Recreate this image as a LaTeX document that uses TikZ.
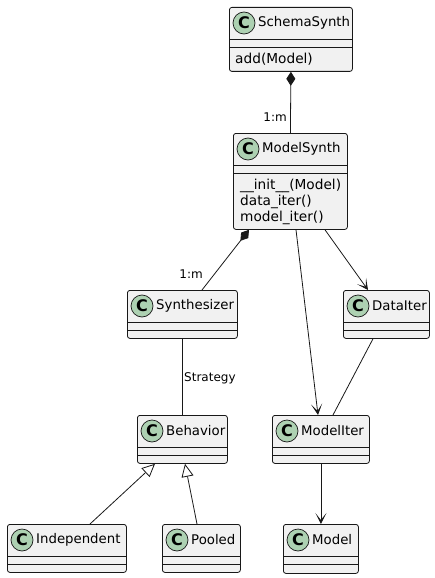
\documentclass[tikz,border=0pt]{standalone}
\usepackage{fontspec}
\setmainfont{DejaVu Sans}
\usetikzlibrary{arrows.meta,calc}
\definecolor{boxfill}{HTML}{F1F1F1}
\definecolor{boxline}{HTML}{181818}
\definecolor{circfill}{HTML}{ADD1B2}
\tikzset{
  classbox/.style={draw=boxline, fill=boxfill, rounded corners=2.5pt, line width=0.8pt, inner sep=0pt, anchor=north west},
  sepline/.style={draw=boxline, line width=0.7pt},
  ctitle/.style={anchor=west, inner sep=0pt, font=\fontsize{13.3}{16}\selectfont},
  cmeth/.style={anchor=west, inner sep=0pt, font=\fontsize{13.7}{16}\selectfont},
  cicon/.style={circle, draw=boxline, fill=circfill, line width=0.7pt, minimum size=22pt, inner sep=0pt, font=\fontsize{16}{18}\selectfont\bfseries},
  conn/.style={draw=boxline, line width=0.8pt},
  lbl/.style={inner sep=0pt, font=\fontsize{12}{14}\selectfont},
  comp/.style={conn, {Diamond[length=14pt,width=9pt,fill=boxline]}-},
  inh/.style={conn, -{Triangle[open,length=13pt,width=12pt,fill=white]}},
  assoc/.style={conn, -{Stealth[length=11pt,width=11pt,inset=7pt]}}
}
% name, x1, y1, width, height, title
\newcommand{\umlclass}[6]{%
  \node[classbox, minimum width=#4pt, minimum height=#5pt] (#1) at (#2,#3) {};
  \draw[sepline] ($(#1.north west)+(0,32)$) -- ($(#1.north east)+(0,32)$);
  \draw[sepline] ($(#1.north west)+(0,40)$) -- ($(#1.north east)+(0,40)$);
  \node[cicon] (#1-icon) at ($(#1.north west)+(15,16)$) {C};
  \node[ctitle] (#1-title) at ($(#1.north west)+(29,16)$) {#6};
}
\begin{document}
\begin{tikzpicture}[x=1pt,y=-1pt]
\useasboundingbox (0,0) rectangle (435,578);
\umlclass{SS}{229}{7}{123}{64}{SchemaSynth}
\node[cmeth] (SSm1) at (235,59) {add(Model)};
\umlclass{MS}{233}{133}{114}{96}{ModelSynth}
\node[cmeth] (MSm1) at (240,185.5) {\_\_init\_\_(Model)};
\node[cmeth] (MSm2) at (240,202) {data\_iter()};
\node[cmeth] (MSm3) at (240,218) {model\_iter()};
\umlclass{Syn}{127}{290}{110}{48}{Synthesizer}
\umlclass{DI}{343}{290}{86}{48}{DataIter}
\umlclass{Beh}{137}{415}{90}{48}{Behavior}
\umlclass{MI}{272}{415}{97}{48}{ModelIter}
\umlclass{Ind}{7}{524}{119}{48}{Independent}
\umlclass{Pool}{162}{524}{78}{48}{Pooled}
\umlclass{Mod}{283}{524}{75}{49}{Model}

\draw[comp] (SS.south) -- (MS.north);
\node[lbl, anchor=east] (l1) at (287,117) {1:m};
\draw[comp] ($(MS.south west)+(16,0)$) -- ($(Syn.north west)+(75,0)$);
\node[lbl, anchor=east] (l2) at (203,274) {1:m};
\draw[conn] (Syn.south) -- (Beh.north);
\node[lbl, anchor=west] (l3) at (184,378) {Strategy};
\draw[inh] ($(Ind.north west)+(83,0)$) -- ($(Beh.south west)+(18,0)$);
\draw[inh] ($(Pool.north west)+(35,0)$) -- ($(Beh.south west)+(48,0)$);
\draw[assoc] ($(MS.south west)+(63,0)$) -- ($(MI.north west)+(46,0)$);
\draw[assoc] ($(MS.south west)+(92,0)$) -- ($(DI.north west)+(25,0)$);
\draw[conn] ($(DI.south west)+(30,0)$) -- ($(MI.north west)+(61,0)$);
\draw[assoc] (MI.south) -- (Mod.north);
\end{tikzpicture}
\end{document}
